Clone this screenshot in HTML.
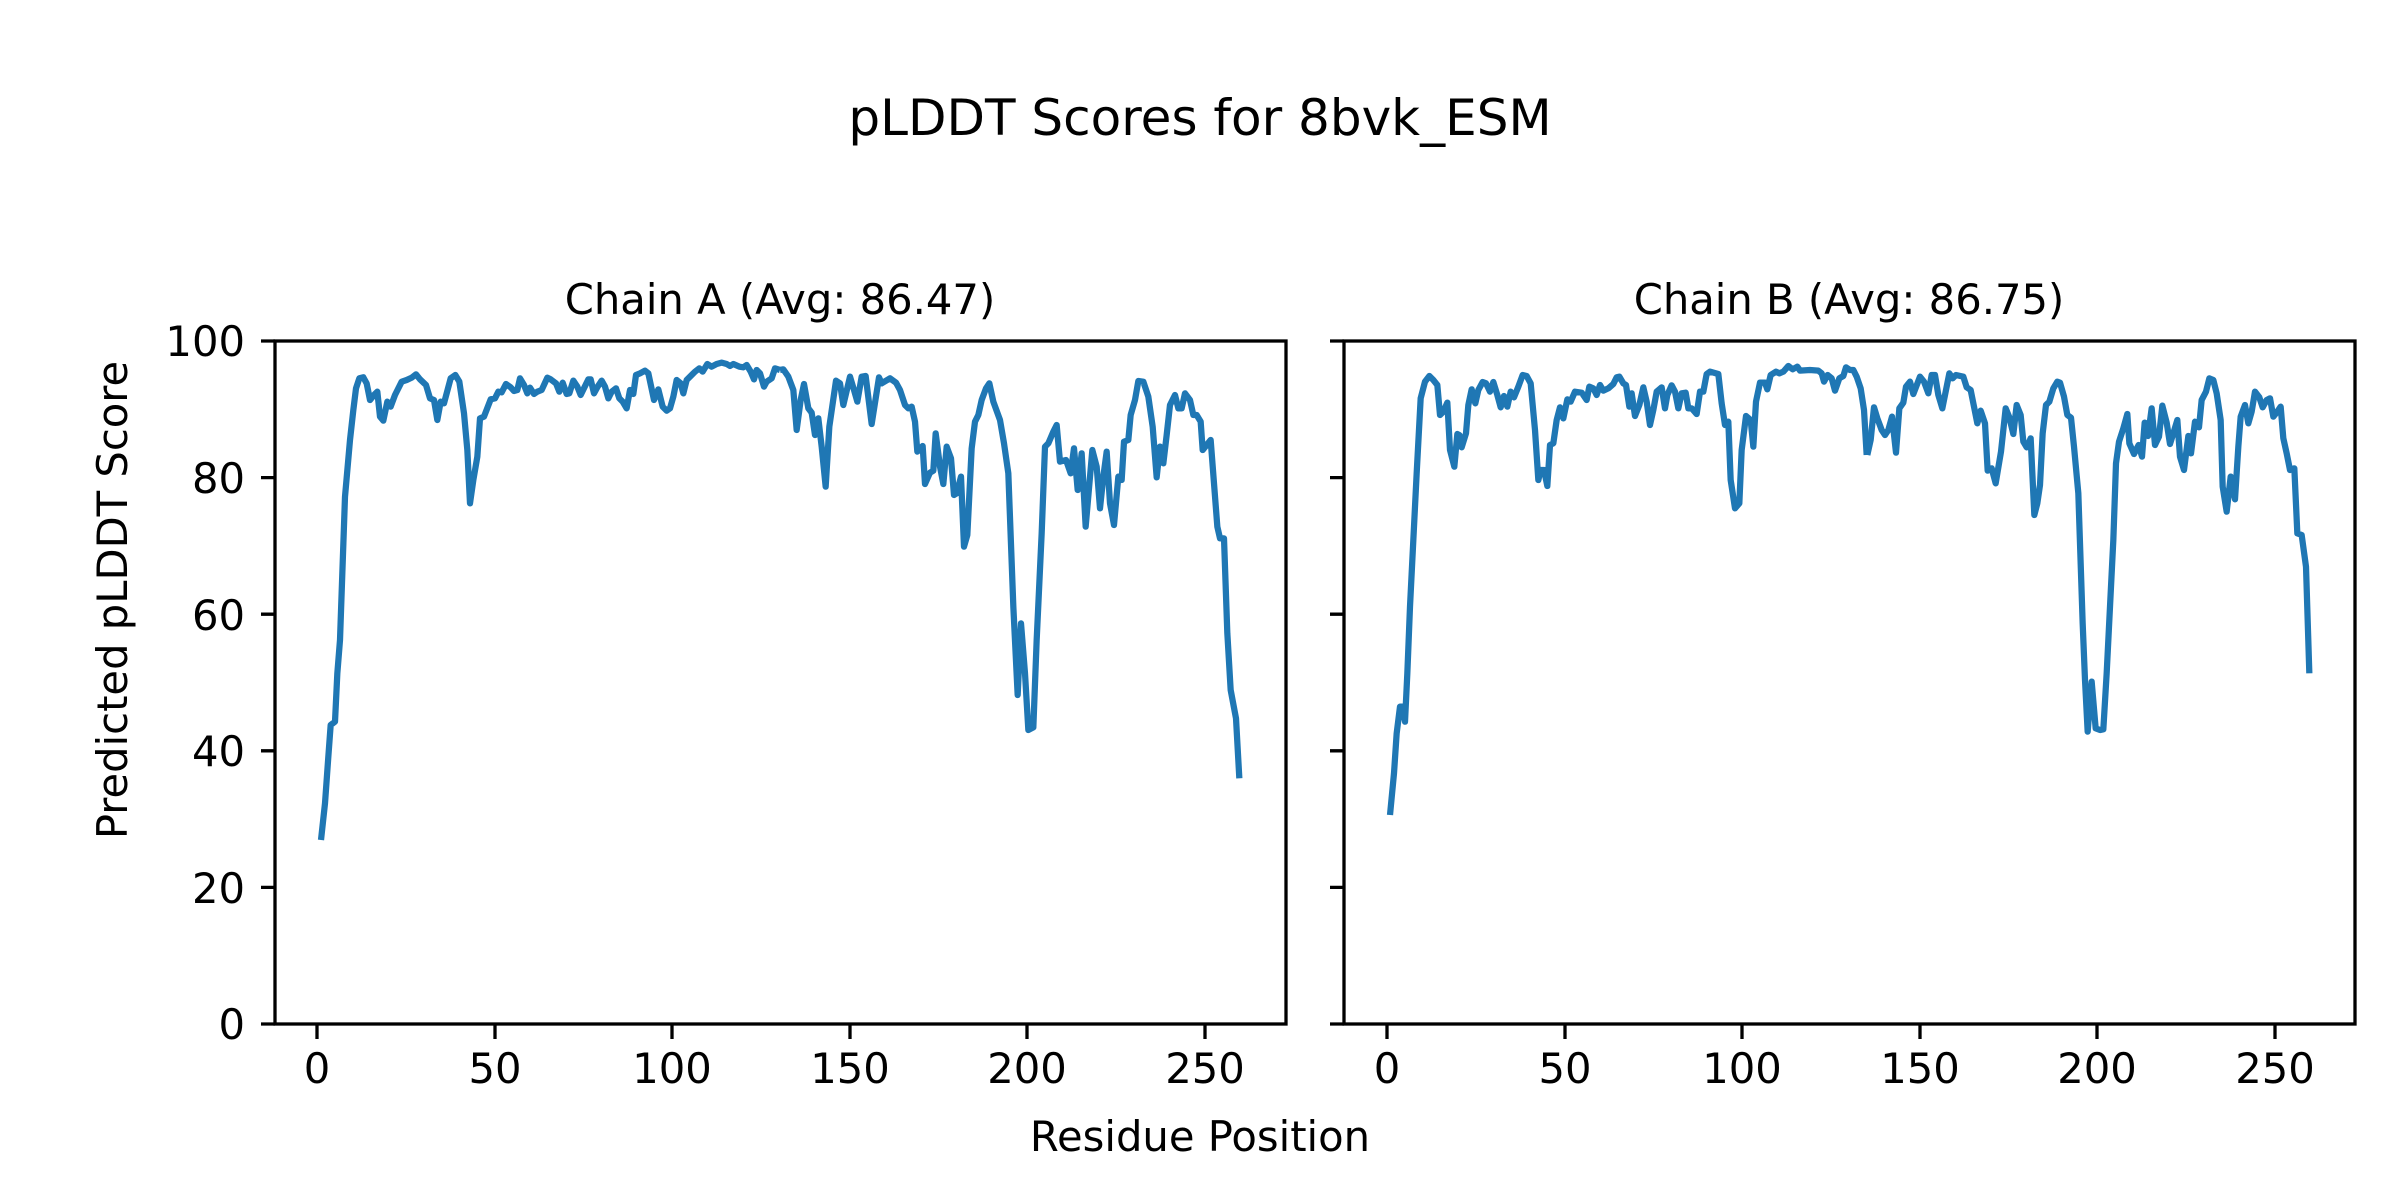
<!DOCTYPE html>
<html><head><meta charset="utf-8"><style>html,body{margin:0;padding:0;background:#fff}svg{display:block}text{font-family:"DejaVu Sans","Liberation Sans",sans-serif;fill:#000}</style></head><body>
<svg width="2400" height="1200" viewBox="0 0 2400 1200" xmlns="http://www.w3.org/2000/svg">
<rect width="2400" height="1200" fill="#fff"/>
<text x="1200" y="135" font-size="50" text-anchor="middle">pLDDT Scores for 8bvk_ESM</text>
<text x="780" y="314" font-size="41.7" text-anchor="middle">Chain A (Avg: 86.47)</text>
<text x="1849" y="314" font-size="41.7" text-anchor="middle">Chain B (Avg: 86.75)</text>
<text x="1200" y="1151" font-size="41.7" text-anchor="middle">Residue Position</text>
<text transform="translate(127,600) rotate(-90)" font-size="41.7" text-anchor="middle">Predicted pLDDT Score</text>
<g font-size="41.7" text-anchor="end">
<text x="245" y="1039">0</text><text x="245" y="903">20</text><text x="245" y="766">40</text><text x="245" y="630">60</text><text x="245" y="493">80</text><text x="245" y="356">100</text>
</g>
<g font-size="41.7" text-anchor="middle">
<text x="317" y="1083">0</text><text x="495" y="1083">50</text><text x="672" y="1083">100</text><text x="850" y="1083">150</text><text x="1027" y="1083">200</text><text x="1205" y="1083">250</text>
<text x="1387" y="1083">0</text><text x="1565" y="1083">50</text><text x="1742" y="1083">100</text><text x="1920" y="1083">150</text><text x="2097" y="1083">200</text><text x="2275" y="1083">250</text>
</g>
<g stroke="#000" stroke-width="3.3">
<path d="M261 1024H275M261 887.4H275M261 750.8H275M261 614.2H275M261 477.6H275M261 341H275"/>
<path d="M1330 1024H1344M1330 887.4H1344M1330 750.8H1344M1330 614.2H1344M1330 477.6H1344M1330 341H1344"/>
<path d="M317 1024V1039M495 1024V1039M672 1024V1039M850 1024V1039M1027 1024V1039M1205 1024V1039"/>
<path d="M1387 1024V1039M1565 1024V1039M1742 1024V1039M1920 1024V1039M2097 1024V1039M2275 1024V1039"/>
</g>
<g fill="none" stroke="#1f77b4" stroke-width="18.75" stroke-linejoin="round">
<g transform="translate(300,340) scale(0.3333333)">
<polyline points="63,1500 75,1390 85,1250 92,1155 105,1145 112,1000 120,900 135,470 150,300 160,210 168,145 178,115 190,112 200,130 210,180 222,165 232,155 240,230 250,242 262,185 272,200 285,165 305,125 320,120 335,113 348,103 360,118 378,135 390,175 402,180 412,240 422,185 432,190 452,115 466,105 478,125 492,220 502,330 510,490 520,420 532,350 540,235 552,230 572,178 585,175 595,155 605,157 618,132 632,142 642,153 652,150 660,115 672,135 682,160 690,143 702,162 712,155 725,150 742,113 752,118 768,130 778,155 788,128 800,162 808,160 820,122 832,140 842,165 865,118 872,118 882,160 893,140 905,122 915,140 925,175 935,155 948,145 958,175 968,185 980,205 990,150 1000,162 1008,105 1020,100 1035,92 1045,100 1062,180 1075,148 1088,200 1100,212 1110,205 1120,170 1130,120 1142,130 1150,160 1160,120 1175,105 1185,95 1198,85 1208,95 1222,72 1235,80 1250,72 1265,68 1280,72 1290,78 1300,72 1318,80 1330,82 1340,75 1352,95 1362,118 1370,90 1380,100 1392,140 1400,125 1415,115 1425,85 1440,90"/>
</g>
<g transform="translate(780,340) scale(0.3333333)">
<polyline points="0,90 10,88 25,110 40,150 50,270 62,180 72,132 85,205 95,218 105,285 115,235 125,320 137,440 148,260 168,122 180,130 190,195 210,110 222,150 232,185 245,110 257,108 275,252 297,112 305,130 330,115 348,128 360,150 375,195 385,205 395,200 405,245 412,335 428,318 435,432 450,398 460,392 467,280 480,380 490,432 500,320 513,355 522,465 530,460 543,410 552,620 562,585 575,325 585,245 595,225 605,180 618,145 628,130 640,185 660,240 672,310 685,400 700,800 713,1065 723,850 735,1000 745,1170 760,1162 770,900 785,580 795,320 805,310 820,275 830,255 840,365 858,360 872,400 882,325 893,450 905,340 917,560 937,330 950,380 960,505 970,410 980,335 990,490 1002,555 1015,410 1025,420 1032,305 1045,300 1052,225 1065,180 1075,123 1090,125 1105,170 1118,260 1130,412 1140,320 1150,370 1160,285 1170,195 1185,165 1195,205 1205,205 1215,160 1230,180 1240,225 1250,225 1262,245 1268,330 1280,315 1292,300 1312,560 1320,595 1332,595 1342,880 1352,1050 1368,1135 1378,1315"/>
</g>
<g transform="translate(1370,340) scale(0.3333333)">
<polyline points="60,1425 72,1300 80,1180 90,1100 98,1100 105,1145 112,1000 120,800 130,600 140,400 152,175 165,125 178,108 190,120 202,135 210,225 220,215 232,188 240,330 253,380 262,282 268,285 275,322 288,280 295,195 305,148 316,190 325,150 338,126 348,130 360,155 370,126 382,165 392,202 402,168 412,200 422,155 432,172 445,140 458,105 470,108 482,130 495,270 505,420 512,390 522,390 532,438 540,315 550,310 560,240 570,202 580,235 592,178 602,185 615,155 635,158 650,180 658,140 670,145 680,165 690,135 700,152 715,145 730,132 740,112 748,110 760,130 768,135 778,200 785,160 795,228 808,195 820,142 830,185 840,255 850,210 860,155 875,142 885,205 892,165 905,136 915,155 925,205 935,160 947,158 955,205 965,205 980,222 990,155 1000,155 1010,102 1020,95 1045,102 1055,190 1065,255 1075,245 1082,420 1095,505 1108,490 1115,330 1128,228 1142,240 1150,320 1158,185 1170,128 1185,128 1192,148 1202,105 1218,95 1228,100 1240,95 1255,78 1268,88 1282,80 1290,92 1320,90 1345,92 1355,100 1362,125 1373,105 1385,115 1395,152 1408,115 1420,108 1428,82 1440,90 1450,90 1460,110 1472,145 1482,210 1490,345"/>
</g>
<g transform="translate(1850,340) scale(0.3333333)">
<polyline points="52,345 62,300 72,202 82,235 95,270 105,285 115,270 126,230 138,338 148,205 160,188 168,140 180,125 190,162 210,110 222,125 235,160 245,105 255,105 265,165 277,205 298,100 308,115 318,105 340,110 350,142 362,150 372,200 382,250 392,212 405,250 413,392 425,385 437,430 453,335 467,205 478,232 490,282 500,195 512,225 520,305 530,322 542,295 553,525 562,490 570,435 578,280 588,195 598,185 610,145 622,125 630,128 642,170 652,225 663,233 672,320 685,460 698,850 705,1020 713,1175 725,1025 737,1165 750,1170 760,1168 770,1000 780,800 790,600 798,370 807,305 820,265 832,222 838,310 852,342 866,315 876,350 884,248 894,288 905,205 915,315 927,290 937,197 950,248 960,312 970,280 982,240 990,350 1002,390 1015,288 1023,340 1035,245 1047,262 1055,180 1068,155 1078,115 1090,120 1100,160 1112,240 1118,440 1130,515 1142,410 1155,478 1165,320 1172,230 1185,195 1195,250 1205,215 1215,155 1228,172 1238,202 1250,180 1260,175 1270,230 1282,215 1292,200 1300,295 1310,340 1320,390 1333,385 1342,580 1355,585 1368,680 1378,1000"/>
</g>
</g>
<g fill="none" stroke="#000" stroke-width="3.3">
<rect x="275" y="341" width="1011" height="683"/>
<rect x="1344" y="341" width="1011" height="683"/>
</g>
</svg>
</body></html>
